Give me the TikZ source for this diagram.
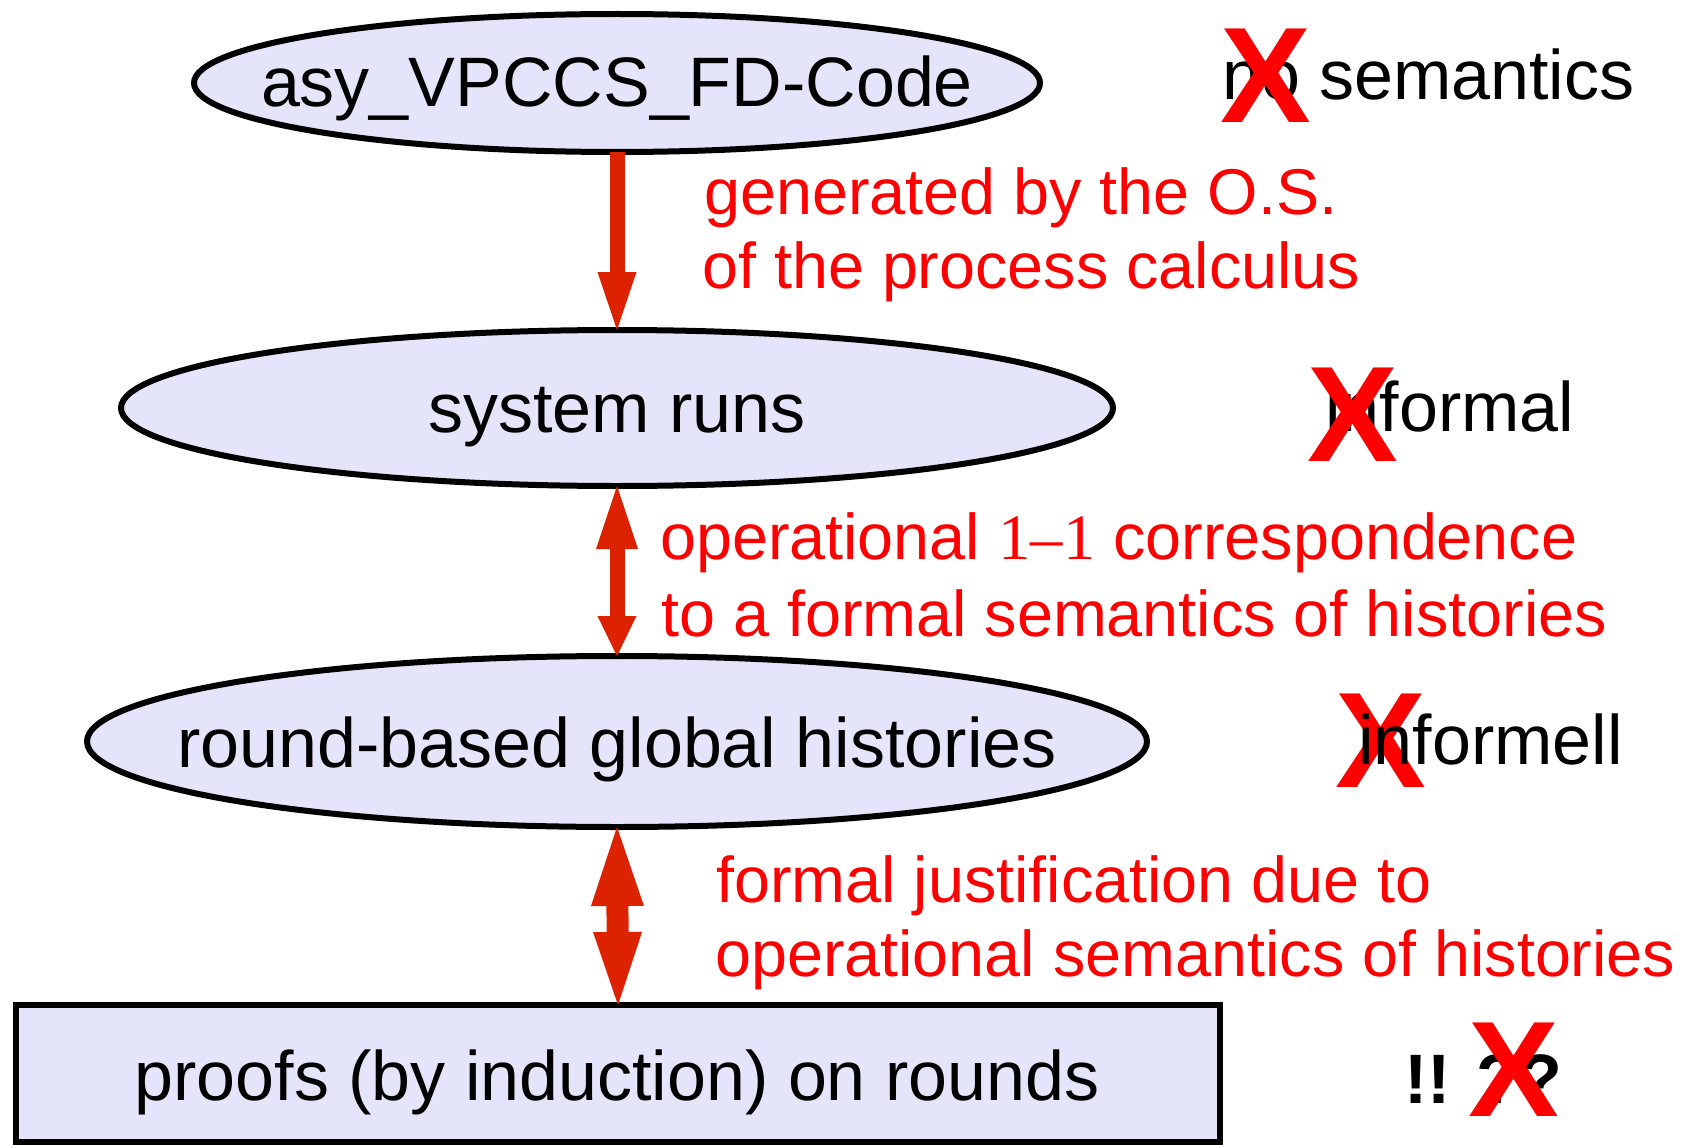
\documentclass[tikz,border=0pt]{standalone}
\usepackage{fontspec}
\setmainfont{Liberation Sans}
\newfontfamily\serifdigits{Liberation Serif}
\usetikzlibrary{shapes.geometric,arrows.meta}

\definecolor{nodefill}{RGB}{228,228,250}
\definecolor{arrowred}{RGB}{221,34,0}
\definecolor{labelred}{RGB}{255,0,0}

\tikzset{
  stage/.style={ellipse, draw=black, line width=6pt, fill=nodefill,
                inner sep=0pt, outer sep=0pt},
  proofbox/.style={rectangle, draw=black, line width=6pt, fill=nodefill,
                inner sep=0pt, outer sep=0pt},
  stagetext/.style={anchor=base, inner sep=0pt, font=\fontsize{70}{84}\selectfont},
  sidetext/.style={anchor=base west, inner sep=0pt, font=\fontsize{70}{84}\selectfont},
  redlabel/.style={anchor=base west, inner sep=0pt, text=labelred,
                font=\fontsize{64.7}{78}\selectfont},
  cross/.style={anchor=base, inner sep=0pt, text=labelred,
                font=\fontsize{136}{160}\selectfont\bfseries},
  link/.style={draw=arrowred, line width=#1},
}

\begin{document}
\begin{tikzpicture}[x=1pt, y=-1pt]
  \useasboundingbox (0,0) rectangle (1682,1145);

  % the four levels
  \node[stage, minimum width=846pt, minimum height=138pt] (e1) at (617,83) {};
  \node[stage, minimum width=992pt, minimum height=156pt] (e2) at (617,408) {};
  \node[stage, minimum width=1060pt, minimum height=171pt] (e3) at (617,741.5) {};
  \node[proofbox, minimum width=1204pt, minimum height=137pt] (r4) at (618,1073.5) {};

  \node[stagetext] (t1) at (617,107) {asy\_VPCCS\_FD-Code};
  \node[stagetext] (t2) at (617,432) {system runs};
  \node[stagetext] (t3) at (617,767) {round-based global histories};
  \node[stagetext] (t4) at (617,1100) {proofs (by induction) on rounds};

  % connectors between the levels
  \draw[link=15pt, -{Triangle[width=39pt,length=58pt,line width=0pt]}]
    (e1.south) -- (e2.north);
  \draw[link=15pt, {Triangle[width=42pt,length=63pt,line width=0pt]}-{Triangle[width=39pt,length=40pt,line width=0pt]}]
    (e2.south) -- (e3.north);
  \draw[link=22pt, {Triangle[width=53pt,length=79pt,line width=0pt]}-{Triangle[width=49pt,length=73pt,line width=0pt]}]
    (e3.south) -- (r4.north);

  % connector labels
  \node[redlabel] (l1a) at (704,214) {generated by the O.S.};
  \node[redlabel] (l1b) at (702,288) {of the process calculus};
  \node[redlabel] (l2a) at (660,559) {operational {\serifdigits 1–1} correspondence};
  \node[redlabel] (l2b) at (661,636) {to a formal semantics of histories};
  \node[redlabel] (l3a) at (716,902) {formal justification due to};
  \node[redlabel] (l3b) at (715,976) {operational semantics of histories};

  % remarks on the right, crossed out
  \node[sidetext] (s1) at (1222,100) {no semantics};
  \node[sidetext] (s2) at (1325,431) {informal};
  \node[sidetext, font=\fontsize{70}{84}\selectfont\bfseries] (s4) at (1404,1103) {!! ??};

  \node[cross] (x1) at (1265.5,123) {X};
  \node[cross] (x2) at (1352.5,461) {X};
  \node[cross] (x3) at (1381,787) {X};
  \node[cross] (x4) at (1514,1116) {X};

  % this remark lies on top of its cross
  \node[sidetext] (s3) at (1358,764) {informell};
\end{tikzpicture}
\end{document}
